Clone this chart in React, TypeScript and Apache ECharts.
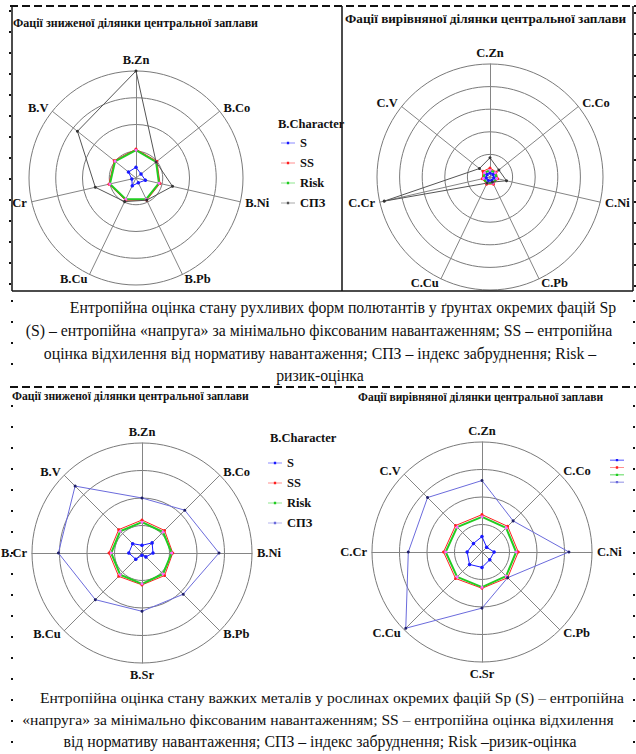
import React, { useEffect, useRef } from 'react';
import * as echarts from 'echarts';

// ---------- data ----------
const TL_AXES = ['B.Zn', 'B.Co', 'B.Ni', 'B.Pb', 'B.Cu', 'B.Cr', 'B.V'];
const TR_AXES = ['C.Zn', 'C.Co', 'C.Ni', 'C.Pb', 'C.Cu', 'C.Cr', 'C.V'];
const BL_AXES = ['B.Zn', 'B.Co', 'B.Ni', 'B.Pb', 'B.Sr', 'B.Cu', 'B.Cr', 'B.V'];
const BR_AXES = ['C.Zn', 'C.Co', 'C.Ni', 'C.Pb', 'C.Sr', 'C.Cu', 'C.Cr', 'C.V'];

const SERIES_NAMES = ['S', 'SS', 'Risk', 'СПЗ'];

// top-left (soil, lowered facies)
const TL_S = [0.1, 0.06, 0.09, 0.05, 0.08, 0.04, 0.09];
const TL_SS = [0.27, 0.25, 0.23, 0.23, 0.23, 0.26, 0.26];
const TL_RISK = [0.26, 0.24, 0.22, 0.22, 0.22, 0.25, 0.25];
const TL_SPZ = [1.0, 0.24, 0.35, 0.23, 0.245, 0.39, 0.7];

// top-right (soil, levelled facies)
const TR_S = [0.035, 0.035, 0.035, 0.035, 0.035, 0.035, 0.035];
const TR_SS = [0.08, 0.07, 0.07, 0.07, 0.07, 0.07, 0.08];
const TR_RISK = [0.06, 0.06, 0.06, 0.06, 0.06, 0.06, 0.06];
const TR_SPZ = [0.17, 0.1, 0.15, 0.05, 0.06, 0.96, 0.12];

// bottom-left (plants, lowered facies)
const BL_S = [0.07, 0.13, 0.1, 0.05, 0.02, 0.08, 0.12, 0.12];
const BL_SS = [0.3, 0.29, 0.28, 0.29, 0.29, 0.3, 0.3, 0.3];
const BL_RISK = [0.28, 0.27, 0.27, 0.27, 0.28, 0.28, 0.28, 0.28];
const BL_SPZ = [0.5, 0.55, 0.7, 0.53, 0.53, 0.6, 0.76, 0.86];

// bottom-right (plants, levelled facies)
const BR_S = [0.14, 0.06, 0.11, 0.1, 0.14, 0.16, 0.135, 0.11];
const BR_SS = [0.34, 0.33, 0.33, 0.33, 0.33, 0.34, 0.35, 0.34];
const BR_RISK = [0.32, 0.31, 0.31, 0.31, 0.32, 0.32, 0.33, 0.32];
const BR_SPZ = [0.65, 0.4, 0.79, 0.33, 0.51, 0.98, 0.67, 0.7];

const TITLE_LOW = 'Фації зниженої ділянки центральної заплави';
const TITLE_LEVEL = 'Фації вирівняної ділянки центральної заплави';

const CAPTION1 = [
  'Ентропійна оцінка стану рухливих форм полютантів у ґрунтах окремих фацій Sp',
  '(S) – ентропійна «напруга» за мінімально фіксованим навантаженням; SS – ентропійна',
  'оцінка відхилення від нормативу навантаження; СПЗ – індекс забруднення; Risk –',
  'ризик-оцінка',
];
const CAPTION2 = [
  'Ентропійна оцінка стану важких металів у рослинах окремих фацій Sp (S) – ентропійна',
  '«напруга» за мінімально фіксованим навантаженням; SS – ентропійна оцінка відхилення',
  'від нормативу навантаження; СПЗ – індекс забруднення; Risk –ризик-оцінка',
];

// ---------- styling helpers ----------
const SERIF = '"Liberation Serif", "Times New Roman", serif';
const ICON = 'path://M0,4.5L24,4.5L24,5.5L0,5.5Z M10,3L14,3L14,7L10,7Z';
const C_S = '#1a1aff';
const C_SS = '#ff2020';
const C_RISK = '#22cc22';
const C_RISK_MK = '#ff66ff';

// ECharts places indicators counter-clockwise; reorder so they run clockwise
function cw<T>(arr: T[]): T[] {
  return [arr[0], ...arr.slice(1).reverse()];
}

function radar(center: number[], radius: number, axes: string[], split: number) {
  return {
    center,
    radius,
    startAngle: 90,
    splitNumber: split,
    shape: 'circle',
    indicator: cw(axes).map((n) => ({ name: n, min: 0, max: 1 })),
    axisName: { color: '#111', fontFamily: SERIF, fontWeight: 'bold', fontSize: 12.5 },
    nameGap: 5,
    axisLine: { lineStyle: { color: '#858585', width: 1 } },
    splitLine: { lineStyle: { color: '#7a7a7a', width: 1 } },
    splitArea: { show: false },
    axisTick: { show: false },
    axisLabel: { show: false },
  };
}

function panelSeries(prefix: string, radarIndex: number, s: number[], ss: number[], risk: number[], spz: number[], spzColor: string, spzMarker: string) {
  return {
    type: 'radar',
    radarIndex,
    silent: true,
    data: [
      {
        name: prefix + '|S', value: cw(s), symbol: 'circle', symbolSize: 3.5,
        itemStyle: { color: C_S }, lineStyle: { color: C_S, width: 1 },
      },
      {
        name: prefix + '|SS', value: cw(ss), symbol: 'circle', symbolSize: 3,
        itemStyle: { color: C_SS }, lineStyle: { color: C_SS, width: 1 },
      },
      {
        name: prefix + '|Risk', value: cw(risk), symbol: 'circle', symbolSize: 3,
        itemStyle: { color: C_RISK_MK }, lineStyle: { color: C_RISK, width: 2 },
      },
      {
        name: prefix + '|СПЗ', value: cw(spz), symbol: 'circle', symbolSize: 3,
        itemStyle: { color: spzMarker }, lineStyle: { color: spzColor, width: 1 },
      },
    ],
  };
}

function legend(prefix: string, left: number, top: number, gap: number, spzColor: string, showText = true) {
  return {
    orient: 'vertical',
    left,
    top,
    itemWidth: 14,
    itemHeight: 8,
    itemGap: gap,
    icon: ICON,
    selectedMode: false,
    data: SERIES_NAMES.map((n) => ({
      name: prefix + '|' + n,
      itemStyle: { color: n === 'S' ? C_S : n === 'SS' ? C_SS : n === 'Risk' ? C_RISK : spzColor },
    })),
    formatter: (name: string) => (showText ? name.split('|')[1] : ''),
    textStyle: { fontFamily: SERIF, fontWeight: 'bold', fontSize: 12.5, color: '#111', lineHeight: 14 },
  };
}

function text(x: number, y: number, t: string, size: number, bold: boolean, align = 'left', sx = 1) {
  return {
    type: 'text',
    x,
    y,
    scaleX: sx,
    z: 120,
    style: {
      text: t,
      fontFamily: SERIF,
      fontSize: size,
      fontWeight: bold ? 'bold' : 'normal',
      fill: '#111',
      align,
      verticalAlign: 'middle',
    },
  };
}

function line(x1: number, y1: number, x2: number, y2: number, width: number, dash?: number[]) {
  return {
    type: 'line',
    z: 110,
    shape: { x1, y1, x2, y2 },
    style: { stroke: '#111', lineWidth: width, lineDash: dash },
  };
}

export default function App() {
  const ref = useRef<HTMLDivElement>(null);
  useEffect(() => {
    if (!ref.current) return;
    const chart = echarts.init(ref.current, undefined, { renderer: 'svg' });
    const DOTS = [2, 19];
    const graphic: any[] = [
      // mask to clip labels at the left frame of the first panel
      { type: 'rect', z: 105, shape: { x: 0, y: 8, width: 11.5, height: 283 }, style: { fill: '#fff' } },
      // top dashed rule
      line(10, 6, 636, 6, 2, [8, 4]),
      // top row frames
      line(12, 6, 12, 291, 1.5),
      line(10, 10, 10, 291, 2, DOTS),
      line(342, 6, 342, 291, 1.5),
      line(633, 6, 633, 291, 1.5),
      line(635, 12, 635, 291, 2, DOTS),
      line(12, 291, 633, 291, 1.5),
      // margins of first caption
      line(12, 300, 12, 384, 2, DOTS),
      line(634, 300, 634, 384, 2, DOTS),
      // second dashed rule
      line(10, 387, 636, 387, 2, [8, 4]),
      // margins of bottom part
      line(12, 405, 12, 754, 2, DOTS),
      line(634, 405, 634, 754, 2, DOTS),
      // panel titles
      text(13, 23, TITLE_LOW, 12, true),
      text(345, 18, TITLE_LEVEL, 13.2, true),
      text(12, 396, TITLE_LOW, 11.6, true),
      text(358, 397, TITLE_LEVEL, 11.5, true),
      // legend titles
      text(278, 124, 'B.Character', 12.5, true),
      text(270, 438, 'B.Character', 12.5, true),
      // captions
      text(343, 307, CAPTION1[0], 15.8, false, 'center'),
      text(319, 330, CAPTION1[1], 15.8, false, 'center'),
      text(320, 353, CAPTION1[2], 15.8, false, 'center'),
      text(320, 375, CAPTION1[3], 15.8, false, 'center'),
      text(332, 697, CAPTION2[0], 15.6, false, 'center'),
      text(318, 719, CAPTION2[1], 15.6, false, 'center'),
      text(320, 741, CAPTION2[2], 15.8, false, 'center'),
    ];

    chart.setOption({
      animation: false,
      backgroundColor: '#fff',
      radar: [
        radar([136, 178], 107, TL_AXES, 4),
        radar([490, 177], 113, TR_AXES, 5),
        radar([142, 553], 110, BL_AXES, 4),
        radar([482, 552], 110, BR_AXES, 4),
      ],
      legend: [
        legend('TL', 276, 131, 6, '#555'),
        legend('BL', 263, 451, 6, '#6b6bdc'),
        legend('BR', 605, 454, 5, '#6b6bdc', false),
      ],
      series: [
        panelSeries('TL', 0, TL_S, TL_SS, TL_RISK, TL_SPZ, '#555555', '#333333'),
        panelSeries('TR', 1, TR_S, TR_SS, TR_RISK, TR_SPZ, '#555555', '#333333'),
        panelSeries('BL', 2, BL_S, BL_SS, BL_RISK, BL_SPZ, '#6b6bdc', '#20206a'),
        panelSeries('BR', 3, BR_S, BR_SS, BR_RISK, BR_SPZ, '#6b6bdc', '#20206a'),
      ],
      graphic,
    });
    return () => chart.dispose();
  }, []);
  return (
    <div
      ref={ref}
      style={{ position: 'absolute', left: 0, top: 0, width: 636, height: 754, background: '#fff' }}
    />
  );
}
